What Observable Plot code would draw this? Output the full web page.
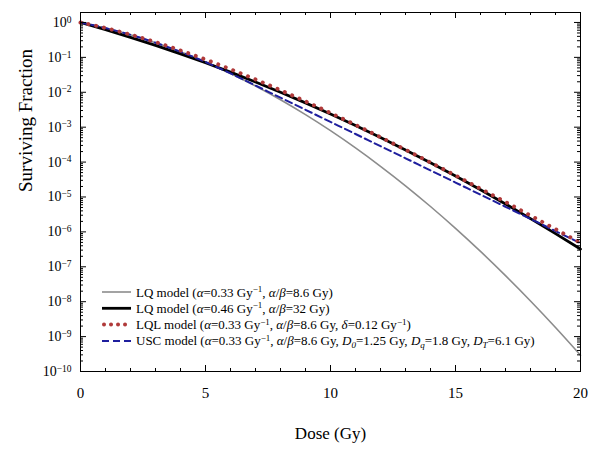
<!DOCTYPE html>
<html>
<head>
<meta charset="utf-8">
<script src="https://cdn.jsdelivr.net/npm/d3@7"></script>
<script src="https://cdn.jsdelivr.net/npm/@observablehq/plot@0.6"></script>
<style>
  html, body { margin: 0; padding: 0; background: #fff; }
  #chart { width: 602px; height: 451px; }
</style>
</head>
<body>
<div id="chart"></div>
<script>
// ---- data (log10 of surviving fraction) ----
const dose = [0,1,2,3,4,5,6,7,8,9,10,11,12,13,14,15,16,17,18,19,20];
const lq1Log = [0,-0.160,-0.353,-0.580,-0.840,-1.133,-1.460,-1.820,-2.213,-2.640,-3.100,-3.593,-4.120,-4.679,-5.273,-5.899,-6.559,-7.253,-7.979,-8.739,-9.532];
const lq2Log = [0,-0.206,-0.425,-0.656,-0.899,-1.155,-1.423,-1.704,-1.998,-2.304,-2.622,-2.953,-3.296,-3.652,-4.020,-4.401,-4.795,-5.200,-5.619,-6.049,-6.493];
const lqlLog = [0,-0.159,-0.348,-0.563,-0.802,-1.061,-1.338,-1.632,-1.940,-2.261,-2.593,-2.935,-3.287,-3.646,-4.012,-4.384,-4.762,-5.144,-5.532,-5.922,-6.317];
const uscDose = [0,1,2,3,4,5,6,6.1,7,8,9,10,11,12,13,14,15,16,17,18,19,20];
const uscLog = [0,-0.160,-0.353,-0.580,-0.840,-1.133,-1.460,-1.494,-1.807,-2.154,-2.502,-2.849,-3.196,-3.544,-3.891,-4.239,-4.586,-4.934,-5.281,-5.628,-5.976,-6.323];

const xMajor = [0,5,10,15,20];
const xMinor = [1,2,3,4,6,7,8,9,11,12,13,14,16,17,18,19];
const yExponents = [0,-1,-2,-3,-4,-5,-6,-7,-8,-9,-10];
const yMajor = yExponents.map(e => Math.pow(10, e));
const yMinor = [];
for (const e of yExponents.slice(1)) for (let k = 2; k <= 9; k++) yMinor.push(k * Math.pow(10, e));

const toRows = (xs, logs) => xs.map((d, i) => ({dose: d, s: Math.pow(10, logs[i])}));
const lq1 = toRows(dose, lq1Log);
const lq2 = toRows(dose, lq2Log);
const lql = toRows(dose, lqlLog);
const usc = toRows(uscDose, uscLog);

const W = 602, H = 451, ML = 80, MR = 22, MT = 12, MB = 80;
const FW = W - ML - MR, FH = H - MT - MB;
// inward ticks as rules trimmed by insets
const tickL = (data, len) => Plot.ruleY(data, {y: d => d, insetRight: FW - len, stroke: "black"});
const tickR = (data, len) => Plot.ruleY(data, {y: d => d, insetLeft: FW - len, stroke: "black"});
const tickB = (data, len) => Plot.ruleX(data, {x: d => d, insetTop: FH - len, stroke: "black"});
const tickT = (data, len) => Plot.ruleX(data, {x: d => d, insetBottom: FH - len, stroke: "black"});

const plot = Plot.plot({
  width: W,
  height: H,
  marginLeft: ML,
  marginRight: MR,
  marginTop: MT,
  marginBottom: MB,
  style: {fontFamily: "'Liberation Serif', 'Times New Roman', serif", background: "#fff", color: "black"},
  x: {domain: [0, 20]},
  y: {type: "log", domain: [1e-10, 1.93]},
  marks: [
    Plot.line(lq1, {x: "dose", y: "s", stroke: "#8c8c8c", strokeWidth: 1.6, curve: "monotone-x"}),
    Plot.line(lq2, {x: "dose", y: "s", stroke: "#000", strokeWidth: 2.8, curve: "monotone-x"}),
    Plot.line(usc, {x: "dose", y: "s", stroke: "#1f1f9e", strokeWidth: 2, strokeDasharray: "7 4", curve: "monotone-x"}),
    Plot.line(lql, {x: "dose", y: "s", stroke: "#b03a3a", strokeWidth: 4, strokeDasharray: "0.01 8", strokeLinecap: "round", curve: "monotone-x"}),
    Plot.frame({stroke: "black", strokeWidth: 1}),
    tickL(yMajor, 6), tickL(yMinor, 3),
    tickR(yMajor, 6), tickR(yMinor, 3),
    tickB(xMajor, 6), tickB(xMinor, 3),
    tickT(xMajor, 6), tickT(xMinor, 3),
    Plot.axisY({ticks: yMajor, tickSize: 0, tickPadding: 9, fontSize: 14, label: null,
      tickFormat: d => String(Math.round(Math.log10(d))).replace("-", "\u2212")}),
    Plot.axisX({ticks: xMajor, tickSize: 0, tickPadding: 16, fontSize: 15, label: null, tickFormat: d => String(d)}),
    Plot.text(["Surviving Fraction"], {frameAnchor: "left", dx: -55, rotate: -90, fontSize: 19, text: d => d}),
    Plot.text(["Dose (Gy)"], {frameAnchor: "bottom", dy: 67, fontSize: 17, text: d => d})
  ]
});
document.getElementById("chart").appendChild(plot);

// superscript exponents on y tick labels
d3.select(plot).selectAll("g[aria-label='y-axis tick label'] text").each(function() {
  const exp = this.textContent;
  const t = d3.select(this);
  t.text("10");
  t.append("tspan").attr("dy", "-0.45em").attr("font-size", "9.5px").text(exp);
});

// legend
const legendItems = [
  {stroke: "#8c8c8c", width: 1.6, dash: null, cap: "butt",
   segs: [["LQ model ("], ["α", "i"], ["=0.33 Gy"], ["−1", "sup"], [", "], ["α", "i"], ["/"], ["β", "i"], ["=8.6 Gy)"]]},
  {stroke: "#000", width: 2.8, dash: null, cap: "butt",
   segs: [["LQ model ("], ["α", "i"], ["=0.46 Gy"], ["−1", "sup"], [", "], ["α", "i"], ["/"], ["β", "i"], ["=32 Gy)"]]},
  {stroke: "#b03a3a", width: 4, dash: "0.01 7", cap: "round",
   segs: [["LQL model ("], ["α", "i"], ["=0.33 Gy"], ["−1", "sup"], [", "], ["α", "i"], ["/"], ["β", "i"], ["=8.6 Gy, "], ["δ", "i"], ["=0.12 Gy"], ["−1", "sup"], [")"]]},
  {stroke: "#1f1f9e", width: 2, dash: "7 4", cap: "butt",
   segs: [["USC model ("], ["α", "i"], ["=0.33 Gy"], ["−1", "sup"], [", "], ["α", "i"], ["/"], ["β", "i"], ["=8.6 Gy, "], ["D", "i"], ["0", "sub"], ["=1.25 Gy, "], ["D", "i"], ["q", "sub"], ["=1.8 Gy, "], ["D", "i"], ["T", "sub"], ["=6.1 Gy)"]]}
];
const lg = d3.select(plot).append("g").attr("aria-label", "legend")
  .attr("font-family", "'Liberation Serif', 'Times New Roman', serif").attr("font-size", "13px")
  .attr("text-anchor", "start").attr("fill", "black");
legendItems.forEach((it, i) => {
  const y = 292 + i * 16.3;
  lg.append("line").attr("x1", it.cap === "round" ? 104 : 102).attr("x2", 131).attr("y1", y).attr("y2", y)
    .attr("stroke", it.stroke).attr("stroke-width", it.width)
    .attr("stroke-dasharray", it.dash).attr("stroke-linecap", it.cap);
  const text = lg.append("text").attr("x", 136).attr("y", y).attr("dy", "0.35em").attr("text-anchor", "start");
  let shift = 0;
  for (const [t, kind] of it.segs) {
    const sp = text.append("tspan").text(t);
    let target = 0;
    if (kind === "sup") { target = -4.5; sp.attr("font-size", "9px"); }
    else if (kind === "sub") { target = 3; sp.attr("font-size", "9px"); sp.attr("font-style", "italic"); }
    else if (kind === "i") { sp.attr("font-style", "italic"); }
    if (target !== shift) { sp.attr("dy", target - shift); shift = target; }
  }
});
</script>
</body>
</html>
